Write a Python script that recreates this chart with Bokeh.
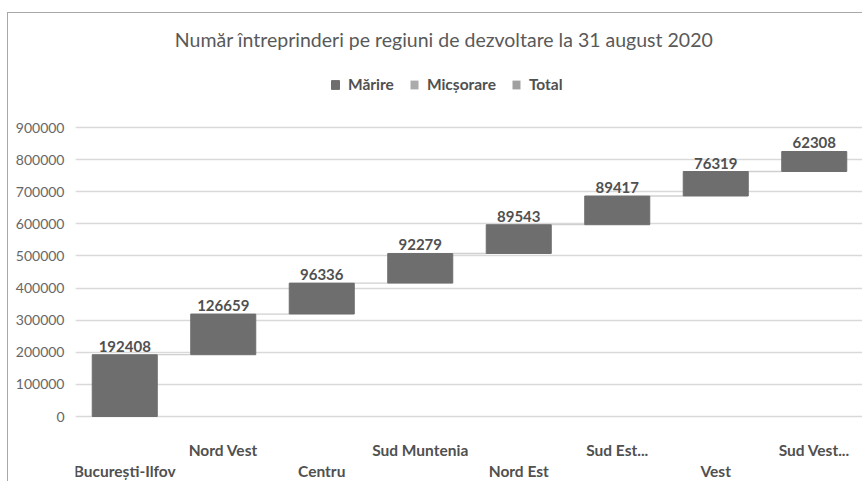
from bokeh.plotting import figure
from bokeh.models import (ColumnDataSource, LabelSet, Label, Legend, LegendItem,
                          FixedTicker, NumeralTickFormatter, Range1d)
from bokeh.core.properties import value
from bokeh.transform import dodge
from bokeh.embed import file_html
from bokeh.resources import INLINE

# ---- data ----
categories = ["București-Ilfov", "Nord Vest", "Centru", "Sud Muntenia",
              "Nord Est", "Sud Est...", "Vest", "Sud Vest..."]
increments = [192408, 126659, 96336, 92279, 89543, 89417, 76319, 62308]
y_ticks = [0, 100000, 200000, 300000, 400000, 500000, 600000, 700000, 800000, 900000]
legend_labels = ["Mărire", "Micșorare", "Total"]
title_text = "Număr întreprinderi pe regiuni de dezvoltare la 31 august 2020"

# ---- derived ----
bottoms, tops = [], []
run = 0
for v in increments:
    bottoms.append(run)
    run += v
    tops.append(run)

FONT = "Lato"
INC_COLOR = "#6e6e6e"
DEC_COLOR = "#ababab"
TOT_COLOR = "#a0a0a0"

FIG_H = 469            # figure (and frame) height in px
ZERO_PX = 66           # px from frame bottom up to value 0
AXIS_PX = 289          # px from 0 to top tick
k = y_ticks[-1] / AXIS_PX
y_start = -ZERO_PX * k
y_end = (FIG_H - ZERO_PX) * k

src = ColumnDataSource(dict(cat=categories, bottom=bottoms, top=tops,
                            label=[str(v) for v in increments]))
conn = ColumnDataSource(dict(c0=categories[:-1], c1=categories[1:], y=tops[:-1]))
upper_src = ColumnDataSource(dict(cat=categories[1::2]))
lower_src = ColumnDataSource(dict(cat=categories[0::2]))

p = figure(x_range=categories, y_range=Range1d(y_start, y_end), title=None,
           width=855, height=FIG_H, output_backend="svg", toolbar_location=None,
           min_border_left=67, min_border_right=0, min_border_top=0,
           min_border_bottom=0)
p.styles = {"margin-left": "7px", "margin-top": "12px",
            "border-top": "1px solid #a8a8a8", "border-left": "1px solid #a8a8a8"}

p.outline_line_color = None
p.xgrid.grid_line_color = None
p.ygrid.grid_line_color = "#d9d9d9"
p.ygrid.grid_line_width = 1.3
p.ygrid.ticker = FixedTicker(ticks=y_ticks)
p.xaxis.visible = False

# connectors
p.segment(x0=dodge("c0", 0.33, range=p.x_range), y0="y",
          x1=dodge("c1", -0.33, range=p.x_range), y1="y",
          source=conn, line_color="#d0d0d0", line_width=1.3)

bars = p.vbar(x="cat", bottom="bottom", top="top", width=0.66, source=src,
              fill_color=INC_COLOR, line_color=INC_COLOR)
dummy = ColumnDataSource(dict(cat=[categories[0]], bottom=[0], top=[0]))
dec = p.vbar(x="cat", bottom="bottom", top="top", width=0.66, source=dummy,
             fill_color=DEC_COLOR, line_color=None)
tot = p.vbar(x="cat", bottom="bottom", top="top", width=0.66, source=dummy,
             fill_color=TOT_COLOR, line_color=None)

labels = LabelSet(x="cat", y="top", text="label", source=src, y_offset=3,
                  text_align="center", text_baseline="bottom",
                  text_font=value(FONT), text_font_size="15px", text_font_style="bold",
                  text_color="#505050")
p.add_layout(labels)

# staggered category labels (frame-relative screen units)
for s, ypx in ((upper_src, 33), (lower_src, 12)):
    p.add_layout(LabelSet(x="cat", y=ypx, y_units="screen", text="cat", source=s,
                          text_align="center", text_baseline="middle",
                          text_font=value(FONT), text_font_size="15.5px",
                          text_font_style="bold", text_color="#505050"))

# title as label (frame-relative screen units)
title = Label(x=368.5, y=FIG_H - 26, x_units="screen", y_units="screen",
              text=title_text, text_align="center", text_baseline="middle",
              text_font=FONT, text_font_size="19.5px", text_color="#595959")
p.add_layout(title)

# y axis
p.yaxis.ticker = FixedTicker(ticks=y_ticks)
p.yaxis.formatter = NumeralTickFormatter(format="0")
p.yaxis.axis_line_color = None
p.yaxis.major_tick_line_color = None
p.yaxis.minor_tick_line_color = None
p.yaxis.major_tick_out = 0
p.yaxis.major_label_standoff = 11
p.yaxis.major_label_text_font = FONT
p.yaxis.major_label_text_font_size = "14px"
p.yaxis.major_label_text_color = "#666666"

legend = Legend(items=[LegendItem(label=legend_labels[0], renderers=[bars]),
                       LegendItem(label=legend_labels[1], renderers=[dec]),
                       LegendItem(label=legend_labels[2], renderers=[tot])],
                orientation="horizontal", location=(255, FIG_H - 71 - 9),
                border_line_color=None, background_fill_alpha=0,
                label_text_font=FONT, label_text_font_size="15.5px",
                label_text_font_style="bold", label_text_color="#505050",
                glyph_width=10, glyph_height=11, spacing=15, label_standoff=8,
                label_height=18, margin=0, padding=0)
p.add_layout(legend)

open("out.html", "w").write(file_html(p, INLINE))
